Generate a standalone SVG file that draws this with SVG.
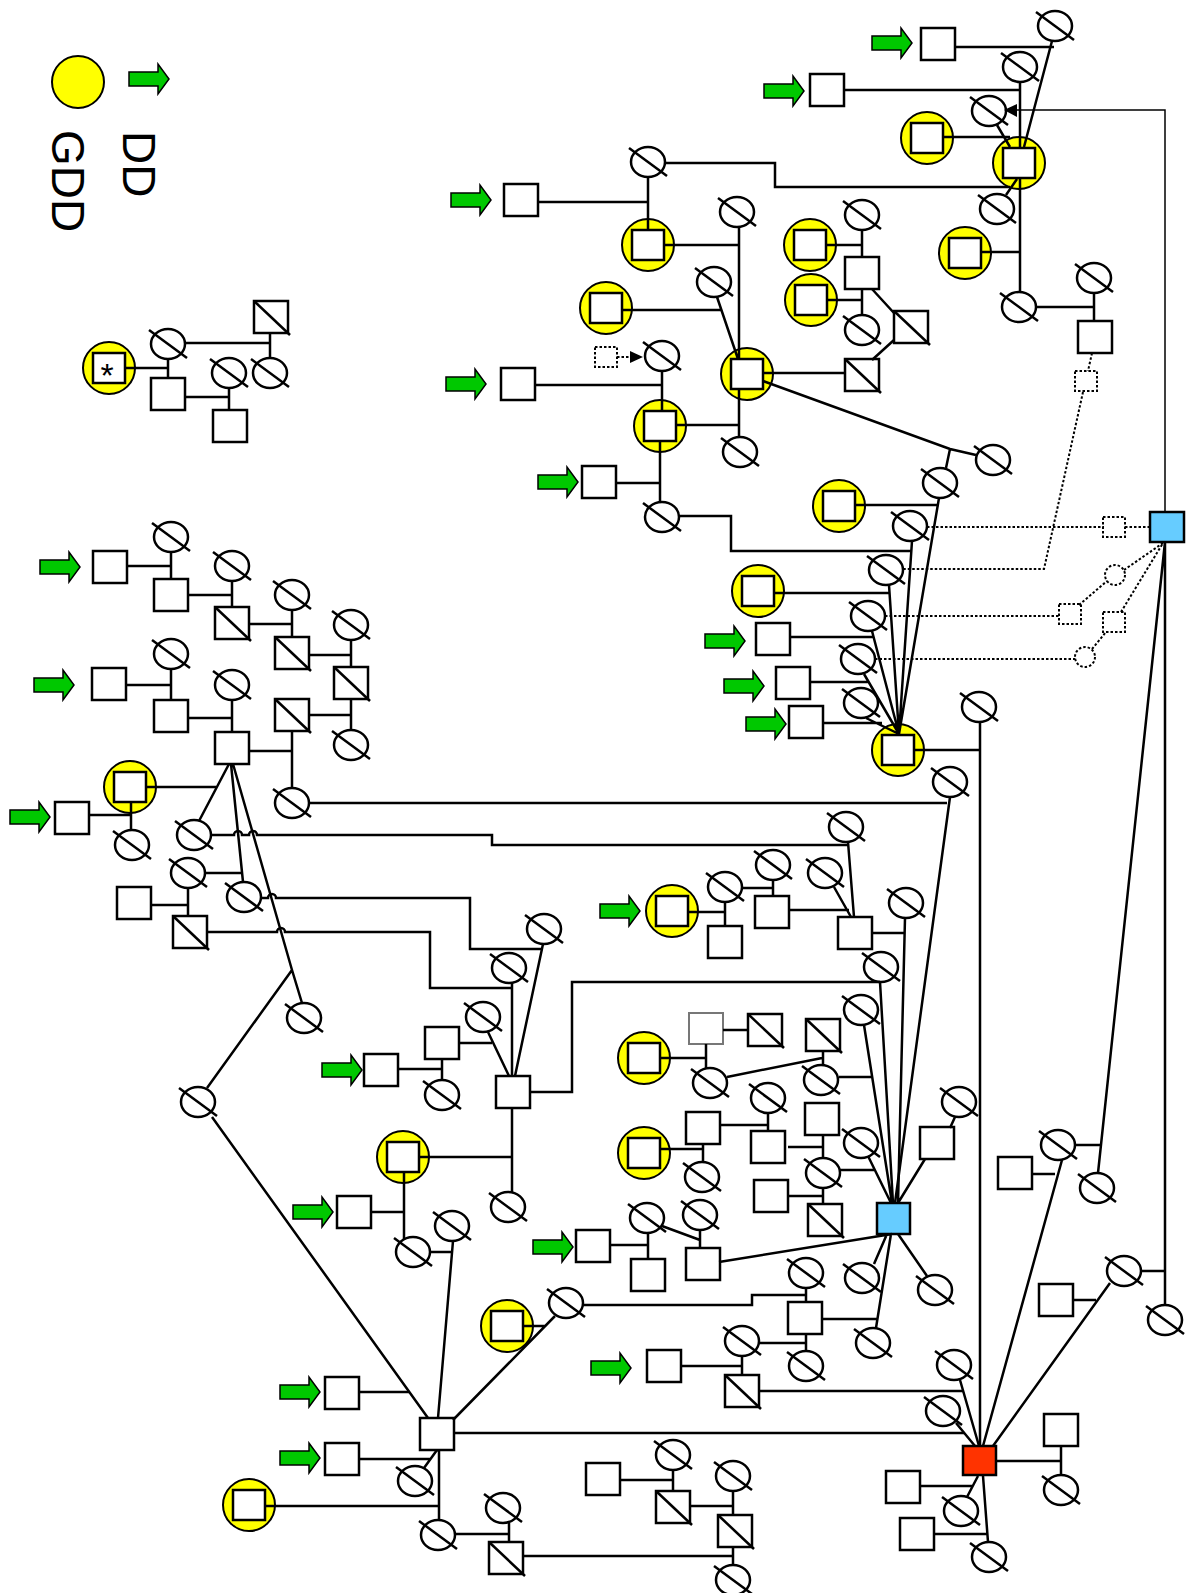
<svg xmlns="http://www.w3.org/2000/svg" width="1187" height="1593" viewBox="0 0 1187 1593">
<style>
.ln{fill:none;stroke:#000;stroke-width:2.5}
.tn{fill:none;stroke:#000;stroke-width:1.5}
.dt{fill:none;stroke:#000;stroke-width:2;stroke-dasharray:2.5 2}
.lg{font-family:"Liberation Sans",Arial,sans-serif;font-size:46px;fill:#000}
</style>
<defs>
<g id="sq"><rect x="-17" y="-16" width="34" height="32" fill="#fff" stroke="#000" stroke-width="2.5"/></g>
<g id="dsq"><rect x="-17" y="-16" width="34" height="32" fill="#fff" stroke="#000" stroke-width="2.5"/><line x1="-17" y1="-16" x2="19" y2="18" stroke="#000" stroke-width="2.5"/></g>
<g id="dc"><ellipse rx="17" ry="15" fill="#fff" stroke="#000" stroke-width="2.5"/><line x1="-19" y1="-14" x2="19" y2="14" stroke="#000" stroke-width="2.5"/></g>
<g id="ys"><circle r="26" fill="#ff0" stroke="#000" stroke-width="2"/><rect x="-16" y="-15" width="32" height="30" fill="#fff" stroke="#000" stroke-width="2.5"/></g>
<g id="ar"><polygon points="0,-7 29,-7 29,-15 40,0 29,15 29,7 0,7" fill="#00c800" stroke="#000" stroke-width="1.5"/></g>
<g id="dq"><rect x="-11" y="-10" width="22" height="20" fill="#fff" stroke="#000" stroke-width="2" stroke-dasharray="2.5 2"/></g>
<g id="dci"><circle r="10" fill="#fff" stroke="#000" stroke-width="2" stroke-dasharray="2.5 2"/></g>
</defs>
<rect width="1187" height="1593" fill="#fff"/>

<g id="legend">
<circle cx="78" cy="82" r="26" fill="#ff0" stroke="#000" stroke-width="2"/>
<use href="#ar" x="129" y="79"/>
<text class="lg" transform="translate(123,131) rotate(90)">DD</text>
<text class="lg" transform="translate(52,130) rotate(90)">GDD</text>
</g>

<g id="nodes">
<g id="s1"><use href="#dsq" x="271" y="317"/></g>
<g id="s2"><use href="#dc" x="168" y="344"/></g>
<g id="s3"><use href="#dc" x="270" y="373"/></g>
<g id="s4"><use href="#dc" x="229" y="373"/></g>
<g id="s5"><use href="#ys" x="109" y="368"/><text x="107" y="387" text-anchor="middle" font-family="Liberation Sans,Arial,sans-serif" font-size="34">*</text></g>
<g id="s6"><use href="#sq" x="168" y="394"/></g>
<g id="s7"><use href="#sq" x="230" y="426"/></g>

<g id="a1"><use href="#ar" x="40" y="567"/></g>
<g id="a2"><use href="#sq" x="110" y="567"/></g>
<g id="a3"><use href="#dc" x="171" y="537"/></g>
<g id="a4"><use href="#sq" x="171" y="595"/></g>
<g id="a5"><use href="#dc" x="232" y="566"/></g>
<g id="a6"><use href="#dsq" x="232" y="623"/></g>
<g id="a7"><use href="#dc" x="292" y="595"/></g>
<g id="a8"><use href="#dsq" x="292" y="653"/></g>
<g id="a9"><use href="#dc" x="351" y="625"/></g>
<g id="a10"><use href="#dsq" x="351" y="683"/></g>
<g id="a11"><use href="#dc" x="351" y="745"/></g>

<g id="b1"><use href="#ar" x="34" y="685"/></g>
<g id="b2"><use href="#sq" x="109" y="684"/></g>
<g id="b3"><use href="#dc" x="171" y="654"/></g>
<g id="b4"><use href="#sq" x="171" y="716"/></g>
<g id="b5"><use href="#dc" x="232" y="685"/></g>
<g id="b6"><use href="#sq" x="232" y="748"/></g>
<g id="b7"><use href="#dsq" x="292" y="715"/></g>
<g id="b8"><use href="#dc" x="292" y="803"/></g>
<g id="b9"><use href="#ys" x="130" y="787"/></g>
<g id="b10"><use href="#ar" x="10" y="817"/></g>
<g id="b11"><use href="#sq" x="72" y="818"/></g>
<g id="b12"><use href="#dc" x="132" y="845"/></g>
<g id="b13"><use href="#dc" x="194" y="835"/></g>
<g id="b14"><use href="#dc" x="188" y="873"/></g>
<g id="b15"><use href="#dc" x="244" y="897"/></g>
<g id="b16"><use href="#sq" x="134" y="903"/></g>
<g id="b17"><use href="#dsq" x="190" y="932"/></g>
<g id="b18"><use href="#dc" x="304" y="1018"/></g>
<g id="b19"><use href="#dc" x="198" y="1102"/></g>

<g id="t1"><use href="#dc" x="648" y="162"/></g>
<g id="t2"><use href="#ar" x="451" y="200"/></g>
<g id="t3"><use href="#sq" x="521" y="200"/></g>
<g id="t4"><use href="#ys" x="648" y="245"/></g>
<g id="t5"><use href="#dc" x="737" y="212"/></g>
<g id="t6"><use href="#dc" x="714" y="282"/></g>
<g id="t7"><use href="#ys" x="606" y="308"/></g>
<g id="t8"><use href="#dq" x="606" y="357"/></g>
<g id="t9"><use href="#dc" x="662" y="356"/></g>
<g id="t10"><use href="#ar" x="446" y="384"/></g>
<g id="t11"><use href="#sq" x="518" y="384"/></g>
<g id="t12"><use href="#ys" x="747" y="374"/></g>
<g id="t13"><use href="#ys" x="660" y="426"/></g>
<g id="t14"><use href="#dc" x="740" y="452"/></g>
<g id="t15"><use href="#ar" x="538" y="482"/></g>
<g id="t16"><use href="#sq" x="599" y="482"/></g>
<g id="t17"><use href="#dc" x="662" y="517"/></g>

<g id="m1"><use href="#ys" x="810" y="245"/></g>
<g id="m2"><use href="#ys" x="811" y="300"/></g>
<g id="m3"><use href="#dc" x="862" y="215"/></g>
<g id="m4"><use href="#sq" x="862" y="273"/></g>
<g id="m5"><use href="#dc" x="862" y="330"/></g>
<g id="m6"><use href="#dsq" x="911" y="327"/></g>
<g id="m7"><use href="#dsq" x="862" y="375"/></g>

<g id="r1"><use href="#ar" x="872" y="43"/></g>
<g id="r2"><use href="#sq" x="938" y="44"/></g>
<g id="r3"><use href="#dc" x="1055" y="26"/></g>
<g id="r4"><use href="#dc" x="1020" y="67"/></g>
<g id="r5"><use href="#ar" x="764" y="91"/></g>
<g id="r6"><use href="#sq" x="827" y="90"/></g>
<g id="r7"><use href="#dc" x="989" y="111"/></g>
<g id="r8"><use href="#ys" x="927" y="138"/></g>
<g id="r9"><use href="#ys" x="1019" y="163"/></g>
<g id="r10"><use href="#dc" x="997" y="209"/></g>
<g id="r11"><use href="#ys" x="965" y="253"/></g>
<g id="r12"><use href="#dc" x="1019" y="307"/></g>
<g id="r13"><use href="#dc" x="1094" y="278"/></g>
<g id="r14"><use href="#sq" x="1095" y="337"/></g>
<g id="r15"><use href="#dq" x="1086" y="381"/></g>

<g id="f1"><use href="#dc" x="993" y="460"/></g>
<g id="f2"><use href="#dc" x="940" y="483"/></g>
<g id="f3"><use href="#ys" x="839" y="506"/></g>
<g id="f4"><use href="#dc" x="910" y="526"/></g>
<g id="f5"><use href="#dq" x="1114" y="527"/></g>
<g id="f6"><rect x="1150" y="512" width="34" height="30" fill="#66ccff" stroke="#000" stroke-width="2.5"/></g>
<g id="f7"><use href="#dc" x="886" y="570"/></g>
<g id="f8"><use href="#ys" x="758" y="591"/></g>
<g id="f9"><use href="#dc" x="868" y="616"/></g>
<g id="f10"><use href="#dq" x="1070" y="614"/></g>
<g id="f11"><use href="#dci" x="1115" y="575"/></g>
<g id="f12"><use href="#dq" x="1114" y="622"/></g>
<g id="f13"><use href="#dci" x="1085" y="657"/></g>
<g id="f14"><use href="#dc" x="858" y="659"/></g>
<g id="f15"><use href="#ar" x="705" y="641"/></g>
<g id="f16"><use href="#sq" x="773" y="639"/></g>
<g id="f17"><use href="#ar" x="724" y="686"/></g>
<g id="f18"><use href="#sq" x="793" y="683"/></g>
<g id="f19"><use href="#dc" x="861" y="703"/></g>
<g id="f20"><use href="#ar" x="746" y="724"/></g>
<g id="f21"><use href="#sq" x="806" y="722"/></g>
<g id="f0"><use href="#ys" x="898" y="750"/></g>
<g id="f22"><use href="#dc" x="979" y="707"/></g>
<g id="f23"><use href="#dc" x="950" y="782"/></g>

<g id="c2"><use href="#dc" x="846" y="827"/></g>
<g id="c3"><use href="#dc" x="825" y="873"/></g>
<g id="c4"><use href="#sq" x="855" y="933"/></g>
<g id="c5"><use href="#dc" x="906" y="903"/></g>
<g id="c6"><use href="#dc" x="881" y="967"/></g>
<g id="c7"><use href="#dc" x="861" y="1010"/></g>
<g id="c8"><use href="#dsq" x="823" y="1035"/></g>
<g id="c9"><use href="#dc" x="821" y="1080"/></g>
<g id="c10"><use href="#sq" x="822" y="1119"/></g>
<g id="c11"><use href="#dc" x="823" y="1173"/></g>
<g id="c12"><use href="#dsq" x="825" y="1220"/></g>
<g id="c13"><use href="#dc" x="861" y="1143"/></g>
<g id="c14"><use href="#sq" x="937" y="1143"/></g>
<g id="c15"><use href="#dc" x="959" y="1102"/></g>
<g id="c16"><rect x="877" y="1203" width="33" height="31" fill="#66ccff" stroke="#000" stroke-width="2.5"/></g>
<g id="c17"><use href="#dc" x="862" y="1278"/></g>
<g id="c18"><use href="#dc" x="935" y="1290"/></g>
<g id="c19"><use href="#dc" x="873" y="1343"/></g>
<g id="c20"><use href="#sq" x="805" y="1318"/></g>
<g id="c21"><use href="#dc" x="806" y="1273"/></g>
<g id="c22"><use href="#dc" x="806" y="1366"/></g>

<g id="d1"><use href="#dc" x="544" y="929"/></g>
<g id="d2"><use href="#dc" x="509" y="968"/></g>
<g id="d3"><use href="#dc" x="483" y="1017"/></g>
<g id="d4"><use href="#sq" x="442" y="1043"/></g>
<g id="d5"><use href="#dc" x="442" y="1095"/></g>
<g id="d6a"><use href="#ar" x="322" y="1070"/></g>
<g id="d6"><use href="#sq" x="381" y="1070"/></g>
<g id="d7"><use href="#sq" x="513" y="1092"/></g>
<g id="d8"><use href="#ys" x="403" y="1157"/></g>
<g id="d9"><use href="#dc" x="508" y="1207"/></g>
<g id="d10"><use href="#dc" x="413" y="1252"/></g>
<g id="d11"><use href="#dc" x="452" y="1226"/></g>
<g id="d12"><use href="#ar" x="293" y="1212"/></g>
<g id="d13"><use href="#sq" x="354" y="1212"/></g>
<g id="d14"><use href="#ys" x="672" y="911"/></g>
<g id="d15"><use href="#ar" x="600" y="911"/></g>
<g id="d16"><use href="#dc" x="725" y="887"/></g>
<g id="d17"><use href="#dc" x="773" y="865"/></g>
<g id="d18"><use href="#sq" x="772" y="912"/></g>
<g id="d19"><use href="#sq" x="725" y="942"/></g>
<g id="d20"><use href="#ys" x="644" y="1058"/></g>
<g id="d21"><rect x="689" y="1013" width="34" height="31" fill="#fff" stroke="#777" stroke-width="2"/></g>
<g id="d22"><use href="#dsq" x="765" y="1030"/></g>
<g id="d23"><use href="#dc" x="710" y="1083"/></g>
<g id="d24"><use href="#ys" x="644" y="1153"/></g>
<g id="d25"><use href="#sq" x="703" y="1128"/></g>
<g id="d26"><use href="#dc" x="768" y="1098"/></g>
<g id="d27"><use href="#sq" x="768" y="1147"/></g>
<g id="d28"><use href="#dc" x="702" y="1177"/></g>
<g id="d29"><use href="#sq" x="771" y="1196"/></g>

<g id="c1"><use href="#sq" x="437" y="1434"/></g>
<g id="e1"><use href="#dc" x="566" y="1303"/></g>
<g id="e2"><use href="#ys" x="507" y="1326"/></g>
<g id="e3"><use href="#ar" x="280" y="1392"/></g>
<g id="e4"><use href="#sq" x="342" y="1393"/></g>
<g id="e5"><use href="#ar" x="280" y="1458"/></g>
<g id="e6"><use href="#sq" x="342" y="1459"/></g>
<g id="e7"><use href="#ys" x="249" y="1505"/></g>
<g id="e8"><use href="#dc" x="415" y="1481"/></g>
<g id="e9"><use href="#dc" x="438" y="1535"/></g>
<g id="e10"><use href="#dc" x="503" y="1508"/></g>
<g id="e11"><use href="#dsq" x="506" y="1558"/></g>
<g id="e12"><use href="#sq" x="603" y="1479"/></g>
<g id="e13"><use href="#dc" x="673" y="1455"/></g>
<g id="e14"><use href="#dsq" x="673" y="1507"/></g>
<g id="e15"><use href="#dc" x="733" y="1476"/></g>
<g id="e16"><use href="#dsq" x="735" y="1531"/></g>
<g id="e17"><use href="#dc" x="733" y="1580"/></g>
<g id="e18"><use href="#ar" x="533" y="1247"/></g>
<g id="e19"><use href="#sq" x="593" y="1246"/></g>
<g id="e20"><use href="#dc" x="647" y="1218"/></g>
<g id="e21"><use href="#sq" x="648" y="1275"/></g>
<g id="e22"><use href="#dc" x="700" y="1215"/></g>
<g id="e23"><use href="#sq" x="703" y="1264"/></g>
<g id="e24"><use href="#dc" x="742" y="1341"/></g>
<g id="e25"><use href="#ar" x="591" y="1368"/></g>
<g id="e26"><use href="#sq" x="664" y="1366"/></g>
<g id="e27"><use href="#dsq" x="742" y="1391"/></g>

<g id="g0"><rect x="963" y="1446" width="33" height="29" fill="#ff3300" stroke="#000" stroke-width="2.5"/></g>
<g id="g1"><use href="#dc" x="954" y="1365"/></g>
<g id="g2"><use href="#dc" x="943" y="1411"/></g>
<g id="g3"><use href="#sq" x="1061" y="1430"/></g>
<g id="g4"><use href="#dc" x="1061" y="1490"/></g>
<g id="g5"><use href="#sq" x="903" y="1487"/></g>
<g id="g6"><use href="#dc" x="961" y="1511"/></g>
<g id="g7"><use href="#sq" x="917" y="1534"/></g>
<g id="g8"><use href="#dc" x="989" y="1557"/></g>
<g id="g9"><use href="#dc" x="1058" y="1145"/></g>
<g id="g10"><use href="#sq" x="1015" y="1173"/></g>
<g id="g11"><use href="#dc" x="1097" y="1188"/></g>
<g id="g12"><use href="#dc" x="1124" y="1271"/></g>
<g id="g13"><use href="#sq" x="1056" y="1300"/></g>
<g id="g14"><use href="#dc" x="1165" y="1320"/></g>
</g>

<g id="connectors">
<path class="ln" d="M185,343H270M270,333V358M125,368H168M168,359V378M185,397H229M229,388V410"/>
<path class="ln" d="M127,566H171M171,552V579M188,595H232M232,581V607M249,624H292M292,610V637M309,655H351M351,640V667M351,699V730"/>
<path class="ln" d="M126,685H171M171,669V700M188,718H232M232,700V732M249,751H292M309,715H351M292,731V788M146,787H216M89,815H131M131,802V830"/>
<path class="ln" d="M229,764L199,821M231,764L243,882M205,873H241M233,764L292,970L302,1003M292,970L207,1088M212,1117L428,1418M151,905H188M188,888V916"/>
<path class="ln" d="M211,835H234a4,4 0 0 1 8,0H249a4,4 0 0 1 8,0H492V845H848"/>
<path class="ln" d="M261,898H268a4,4 0 0 1 8,0H470V949H542"/>
<path class="ln" d="M207,932H277a4,4 0 0 1 8,0H430V988H512"/>
<path class="ln" d="M309,803H947"/>

<path class="ln" d="M665,163H775V187H1010M648,177V230M538,202H648M664,245H739M739,227V359M739,389V437M717,297L738,359M622,310H722M662,371V411M535,385H662M676,425H739M660,441V502M616,483H660M679,516H731V551H911M763,381L950,449L976,455M950,449L946,468M763,373H845"/>
<path class="dt" d="M617,357H631"/>
<polygon points="630,351 643,357 630,363" fill="#000"/>

<path class="ln" d="M826,245H862M862,230V257M827,300H862M862,289V315M872,289L894,313M894,340L872,360"/>

<path class="ln" d="M956,47H1054M1052,41L1024,147M1020,82V147M844,90H1020M997,125L1010,147M943,137H1010M1017,179L1006,195M1020,178V292M981,252H1020M1036,307H1094M1094,293V321"/>
<path class="tn" d="M1017,110H1165V512"/>
<polygon points="1004,110 1017,104 1017,117" fill="#000"/>
<path class="dt" d="M1092,353L1088,371M1083,392L1044,569H904"/>

<path class="ln" d="M899,734L939,498M899,734L912,541M899,734L889,585M899,734L872,631M899,734L864,674M899,734L866,718M855,505H939M775,593H889M790,637H873M810,682H868M823,723H882M914,750H980M980,722V1446M950,797L895,1203M1165,542L1098,1173M1165,542V1305"/>
<path class="dt" d="M927,527H1104M1125,527H1150M885,616H1059M1079,605L1107,581M1124,570L1163,543M1121,612L1163,543M1092,649L1106,632M875,659H1075"/>

<path class="ln" d="M848,842L854,917M834,887L851,917M788,910H849M872,933H905M905,918L898,1203M880,982L893,1203M864,1025L892,1203M839,1077H872M823,1051V1065M727,1077L822,1058M868,1156L891,1203M839,1170H874M823,1135V1158M788,1147H823M823,1188V1204M788,1196H823M950,1128L955,1117M925,1159L898,1203M892,1234L719,1262M887,1234L874,1264M891,1234L876,1328M822,1319H877M898,1234L927,1276M806,1288V1302M806,1334V1351M758,1343H806M583,1305H752V1295H806"/>

<path class="ln" d="M543,944L515,1076M512,983V1076M488,1032L509,1076M458,1043H492M442,1059V1080M398,1069H442M530,1092H572V982H880M512,1108V1192M419,1157H512M404,1172V1239M371,1212H404M430,1252H452M453,1241L438,1418M688,912H725M725,902V926M742,888H773M773,880V896M660,1058H705M706,1044V1068M723,1030H748M661,1149H703M703,1144V1162M719,1125H768M768,1113V1131"/>

<path class="ln" d="M453,1433H964M453,1420L555,1316M523,1326H546M359,1392H409M359,1459H430M437,1450L424,1468M439,1450V1520M265,1506H439M455,1534H509M509,1523V1542M522,1556H733M620,1480H673M673,1470V1491M690,1506H733M733,1491V1515M733,1547V1565M610,1245H648M648,1233V1259M662,1226L700,1240M700,1230V1248M681,1366H742M742,1356V1375M759,1391H963"/>

<path class="ln" d="M960,1380L979,1446M956,1423L975,1446M1062,1160L983,1446M1110,1283L993,1446M996,1461H1061M1061,1446V1475M919,1486H973M978,1476L967,1497M934,1534H987M983,1476L988,1542M1032,1174H1055M1074,1145H1100M1141,1271H1165M1073,1300H1096"/>
</g>
</svg>
